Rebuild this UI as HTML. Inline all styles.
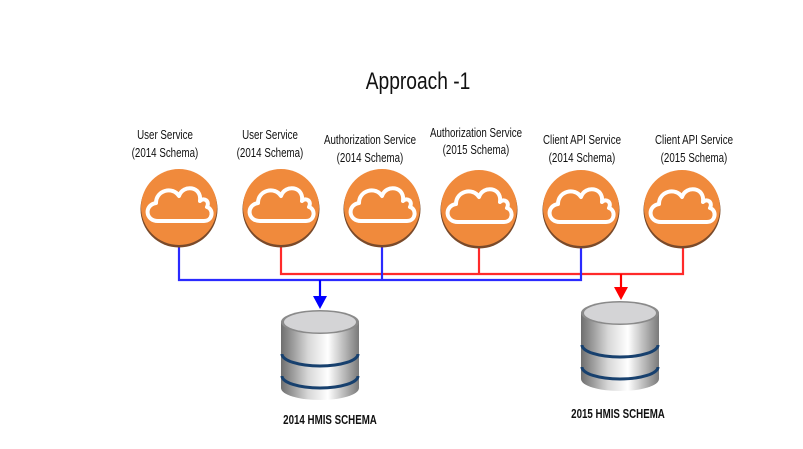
<!DOCTYPE html>
<html><head><meta charset="utf-8"><style>
html,body{margin:0;padding:0;background:#fff}
svg{display:block}
text{font-family:"Liberation Sans",sans-serif;fill:#111}
</style></head><body>
<svg width="803" height="449" viewBox="0 0 803 449" xmlns="http://www.w3.org/2000/svg">
<defs>
<linearGradient id="cyl" x1="0" x2="1" y1="0" y2="0">
<stop offset="0" stop-color="#6e6e6e"/><stop offset="0.35" stop-color="#d8d8d8"/><stop offset="0.6" stop-color="#ffffff"/><stop offset="1" stop-color="#7a7a7a"/>
</linearGradient>
<g id="cloud">
<path d="M-21,14 C-34,14 -35,-2 -23,-4 C-23,-17 -6,-21 0,-11 C4,-23 23,-21 21,-6 C25,-10 31,-6 28,0 C35,2 34,14 25,14 Z" fill="none" stroke="#fff" stroke-width="4" stroke-linejoin="round"/>
</g>
<g id="svc">
<circle cx="0" cy="2" r="38.5" fill="#7a4a2a"/>
<circle cx="0" cy="0" r="38" fill="#f08a3c"/>
<use href="#cloud"/>
</g>
<g id="db">
<path d="M0,12 V78 A39,12 0 0 0 78,78 V12 Z" fill="url(#cyl)"/>
<ellipse cx="39" cy="12" rx="39" ry="12" fill="#8a8a8a"/>
<ellipse cx="39" cy="12" rx="36" ry="10.5" fill="#d4d4d6"/>
<path d="M1,44 A38,12 0 0 0 77,44" fill="none" stroke="#17406e" stroke-width="3"/>
<path d="M1,66 A38,12 0 0 0 77,66" fill="none" stroke="#17406e" stroke-width="3"/>
</g>
</defs>

<text font-size="24" text-anchor="middle" transform="translate(418 89) scale(0.8 1)" font-weight="bold" style="font-weight:500">Approach -1</text>

<g font-size="13" text-anchor="middle">
<text transform="translate(165 139) scale(0.75 1)">User Service</text>
<text transform="translate(165 157) scale(0.75 1)">(2014 Schema)</text>
<text transform="translate(270 139) scale(0.75 1)">User Service</text>
<text transform="translate(270 157) scale(0.75 1)">(2014 Schema)</text>
<text transform="translate(370 144) scale(0.75 1)">Authorization Service</text>
<text transform="translate(370 162) scale(0.75 1)">(2014 Schema)</text>
<text transform="translate(476 137) scale(0.75 1)">Authorization Service</text>
<text transform="translate(476 154) scale(0.75 1)">(2015 Schema)</text>
<text transform="translate(582 144) scale(0.75 1)">Client API Service</text>
<text transform="translate(582 162) scale(0.75 1)">(2014 Schema)</text>
<text transform="translate(694 144) scale(0.75 1)">Client API Service</text>
<text transform="translate(694 162) scale(0.75 1)">(2015 Schema)</text>
</g>

<g fill="none" stroke-width="2.2">
<polyline points="281,246 281,274 683,274 683,246" stroke="#ff2a2a"/>
<line x1="479" y1="246" x2="479" y2="274" stroke="#ff2a2a"/>
<line x1="621" y1="274" x2="621" y2="290" stroke="#ff0000"/>
<polyline points="179,246 179,280 581,280 581,246" stroke="#2a2aff"/>
<line x1="382" y1="246" x2="382" y2="280" stroke="#2a2aff"/>
<line x1="320" y1="280" x2="320" y2="298" stroke="#0000ff"/>
</g>
<polygon points="313,296 327,296 320,309" fill="#0000ff"/>
<polygon points="614,287 628,287 621,300" fill="#ff0000"/>

<use href="#svc" x="179" y="207"/>
<use href="#svc" x="281" y="207"/>
<use href="#svc" x="382" y="207"/>
<use href="#svc" x="479" y="208"/>
<use href="#svc" x="581" y="208"/>
<use href="#svc" x="682" y="208"/>

<use href="#db" x="281" y="310"/>
<use href="#db" x="581" y="301"/>

<g font-size="13" font-weight="bold" text-anchor="middle">
<text transform="translate(330 424) scale(0.75 1)">2014 HMIS SCHEMA</text>
<text transform="translate(618 418) scale(0.75 1)">2015 HMIS SCHEMA</text>
</g>
</svg>
</body></html>
